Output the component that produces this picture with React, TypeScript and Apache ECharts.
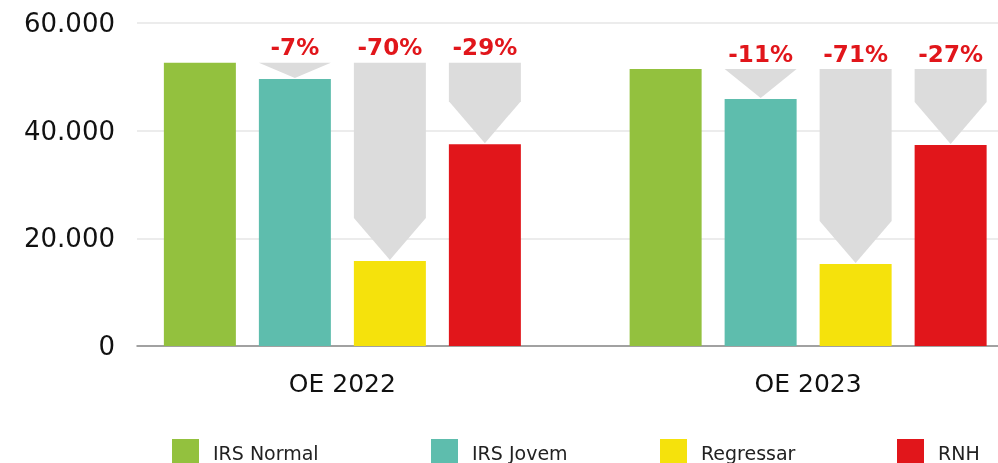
import React, { useEffect, useRef } from "react";
import * as echarts from "echarts";

const categories = ["OE 2022", "OE 2023"];
const seriesNames = ["IRS Normal", "IRS Jovem", "Regressar", "RNH"];
const irsNormal = [52600, 51450];
const irsJovem = [49600, 45880];
const regressar = [15800, 15230];
const rnh = [37500, 37340];
const changeLabels2022 = ["-7%", "-70%", "-29%"];
const changeLabels2023 = ["-11%", "-71%", "-27%"];
const yTicks = [0, 20000, 40000, 60000];

const COLORS = ["#93C13E", "#5EBDAD", "#F5E20C", "#E1161B"];
const GRAY = "#DCDCDC";
const FONT = "DejaVu Sans";
const BAR_W = 72;
const BAR_GAP = 23;
const CANVAS_W = 1041;

export default function App() {
  const ref = useRef<HTMLDivElement>(null);
  useEffect(() => {
    if (!ref.current) return;
    const chart = echarts.init(ref.current, undefined, { renderer: "svg" });
    const allSeries = [irsNormal, irsJovem, regressar, rnh];
    const labels = [changeLabels2022, changeLabels2023];
    const arrowData: any[] = [];
    categories.forEach((_, ci) => {
      for (let s = 1; s < 4; s++) {
        arrowData.push([ci, s, irsNormal[ci], allSeries[s][ci], labels[ci][s - 1]]);
      }
    });
    const fmt = (v: number) =>
      v === 0 ? "0" : String(v).replace(/\B(?=(\d{3})+(?!\d))/g, ".");

    const option: any = {
      animation: false,
      grid: [
        { left: 137, right: CANVAS_W - 998, top: 23, bottom: 117, containLabel: false },
        { left: 109.5, right: 0, top: 23, bottom: 117, containLabel: false },
      ],
      xAxis: [
        {
          type: "category",
          gridIndex: 0,
          data: categories,
          axisLine: { show: true, lineStyle: { color: "#888888", width: 1.5 } },
          axisTick: { show: false },
          axisLabel: { show: false },
        },
        {
          type: "category",
          gridIndex: 1,
          data: categories,
          axisLine: { show: false },
          axisTick: { show: false },
          axisLabel: {
            color: "#111111",
            fontFamily: FONT,
            fontSize: 25,
            margin: 25,
          },
        },
      ],
      yAxis: [
        {
          type: "value",
          gridIndex: 0,
          min: 0,
          max: 60000,
          interval: 20000,
          axisLine: { show: false },
          axisTick: { show: false },
          splitLine: { lineStyle: { color: "#E6E6E6", width: 1.5 } },
          axisLabel: {
            color: "#111111",
            fontFamily: FONT,
            fontSize: 26,
            margin: 22,
            formatter: (v: number) => (yTicks.includes(v) ? fmt(v) : ""),
          },
        },
        {
          type: "value",
          gridIndex: 1,
          min: 0,
          max: 60000,
          interval: 20000,
          show: false,
        },
      ],
      legend: seriesNames.map((name, i) => ({
        data: [{ name, icon: "rect" }],
        left: [172, 431, 660, 897][i],
        top: 439,
        itemWidth: 27,
        itemHeight: 27,
        padding: 0,
        selectedMode: false,
        textStyle: {
          color: "#222222",
          fontFamily: FONT,
          fontSize: 19,
          padding: [0, 0, 0, 9],
        },
      })),
      series: [
        ...seriesNames.map((name, i) => ({
          name,
          type: "bar",
          xAxisIndex: 1,
          yAxisIndex: 1,
          data: allSeries[i],
          barWidth: BAR_W,
          barGap: `${(BAR_GAP / BAR_W) * 100}%`,
          itemStyle: { color: COLORS[i] },
          z: 3,
        })),
        {
          type: "custom",
          name: "arrows",
          xAxisIndex: 1,
          yAxisIndex: 1,
          data: arrowData,
          z: 2,
          renderItem: (params: any, api: any) => {
            const ci = api.value(0);
            const s = api.value(1);
            const top = api.coord([ci, api.value(2)]);
            const tip = api.coord([ci, api.value(3)]);
            const offset = (s - 1.5) * (BAR_W + BAR_GAP);
            const xc = top[0] + offset;
            const x0 = xc - BAR_W / 2;
            const x1 = xc + BAR_W / 2;
            const yTop = top[1];
            const yTip = tip[1] - 1;
            const h = Math.min(42, yTip - yTop);
            const label = arrowData[params.dataIndex][4];
            return {
              type: "group",
              children: [
                {
                  type: "polygon",
                  shape: {
                    points: [
                      [x0, yTop],
                      [x1, yTop],
                      [x1, yTip - h],
                      [xc, yTip],
                      [x0, yTip - h],
                    ],
                  },
                  style: { fill: GRAY },
                },
                {
                  type: "text",
                  x: xc,
                  y: yTop - 4,
                  style: {
                    text: label,
                    fill: "#E1161B",
                    font: `bold 23px "${FONT}"`,
                    align: "center",
                    verticalAlign: "bottom",
                  },
                },
              ],
            };
          },
        },
      ],
    };
    chart.setOption(option);
    return () => chart.dispose();
  }, []);
  return (
    <div
      style={{
        position: "fixed",
        left: 0,
        top: 0,
        width: 998,
        height: 463,
        overflow: "hidden",
      }}
    >
      <div ref={ref} style={{ width: CANVAS_W, height: 463 }} />
    </div>
  );
}
